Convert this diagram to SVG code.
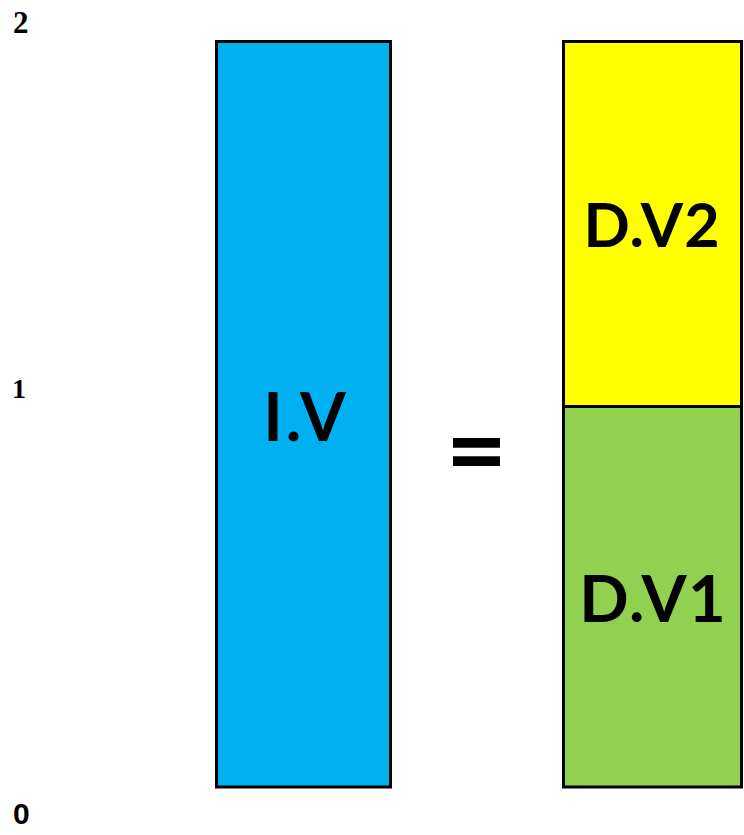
<svg xmlns="http://www.w3.org/2000/svg" width="744" height="835" viewBox="0 0 744 835">
<style>
.box{stroke:#000;stroke-width:3}
.lbl{font-family:Lato,"Liberation Sans",sans-serif;font-weight:bold;fill:#000;text-anchor:middle}
.ax{font-family:"Liberation Serif",serif;font-weight:bold;fill:#000}
</style>
<rect width="744" height="835" fill="#fff"/>
<g id="axis">
<text class="ax" x="13" y="33" font-size="31">2</text>
<text class="ax" x="12" y="397.5" font-size="28">1</text>
<text x="13" y="824" font-size="30" font-family="'Liberation Sans',sans-serif" font-weight="bold">0</text>
</g>
<g id="iv">
<rect class="box" x="216.5" y="41.5" width="174" height="745.5" fill="#00B0F0"/>
<text class="lbl" x="306" y="441" font-size="66" letter-spacing="3">I.V</text>
</g>
<g id="eq">
<text class="lbl" x="476.5" y="487" font-size="106">=</text>
</g>
<g id="dv2">
<rect class="box" x="563.5" y="41.5" width="178" height="365" fill="#FFFF00"/>
<text class="lbl" x="652" y="246.7" font-size="61" letter-spacing="1">D.V2</text>
</g>
<g id="dv1">
<rect class="box" x="563.5" y="406.5" width="178" height="380.5" fill="#92D050"/>
<text class="lbl" x="653.3" y="621.7" font-size="65" letter-spacing="1.5">D.V1</text>
</g>
<g id="connectors"></g>
</svg>
